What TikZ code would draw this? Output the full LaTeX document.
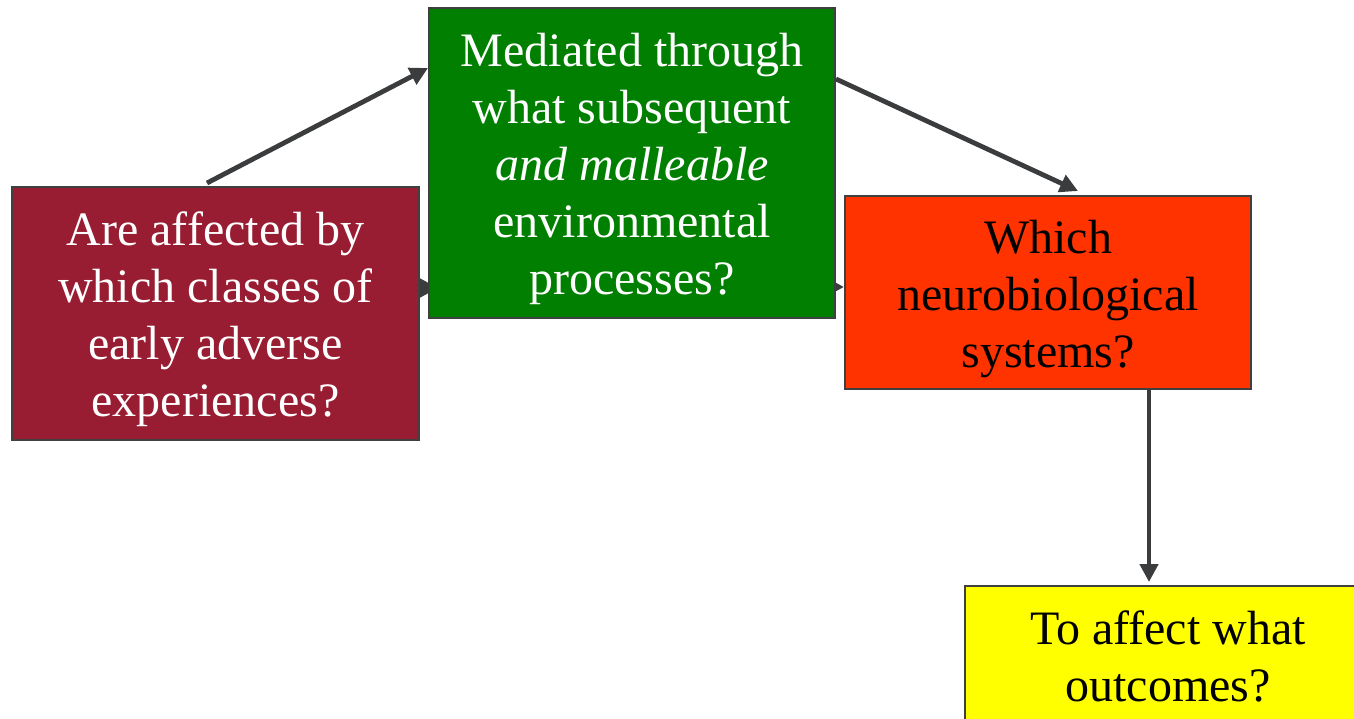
\documentclass[tikz,border=0pt]{standalone}
\usepackage{fontspec}
\setmainfont{Liberation Serif}
\usetikzlibrary{positioning,arrows.meta,backgrounds}
\definecolor{boxred}{RGB}{153,29,50}
\definecolor{boxgreen}{RGB}{0,127,0}
\definecolor{boxorange}{RGB}{255,51,0}
\definecolor{boxyellow}{RGB}{255,255,0}
\definecolor{edgegray}{RGB}{64,64,64}
\definecolor{arrowgray}{RGB}{58,60,62}
\newcommand{\boxstrut}{\rule{0pt}{23pt}}
\begin{document}
\begin{tikzpicture}[x=0.5pt, y=-0.5pt]
		\tikzstyle{questionbox} = [rectangle, draw = edgegray, line width = 1pt, align = center, minimum width = 203pt, inner sep = 0pt, font = \fontsize{24}{28.5}\selectfont];
		\tikzstyle{flowpath} = [draw = arrowgray, line width = 2.4pt, -{Triangle[length = 9pt, width = 9pt]}];
		\useasboundingbox (0,0) rectangle (1354,718);
		\node (adverse) at (215.5,313.5) [questionbox, fill = boxred, text = white, minimum width = 203.5pt, minimum height = 126.5pt] {\boxstrut Are affected by\\which classes of\\early adverse\\experiences?};
		\node (mediated) at (632,163) [questionbox, fill = boxgreen, text = white, minimum height = 155pt] {\boxstrut Mediated through\\what subsequent\\\textit{and malleable}\\environmental\\processes?};
		\node (neuro) at (1048,292.5) [questionbox, fill = boxorange, minimum height = 96.5pt] {\boxstrut Which\\neurobiological\\systems?};
		\node (outcome) at (1168,656) [questionbox, fill = boxyellow, minimum height = 70pt] {To affect what\\outcomes?};
		\coordinate (neurodown) at ([xshift = 50.5pt]neuro.south);
		\begin{pgfonlayer}{background}
			\path [flowpath] ([yshift = 12.75pt]adverse.east) -- ++(9pt,0);
			\path [flowpath] ([yshift = -62pt]mediated.east) -- ([yshift = 2.75pt]neuro.west);
		\end{pgfonlayer}
		\path [flowpath] ([xshift = -4.25pt, yshift = 1.5pt]adverse.north) -- ([yshift = -30.5pt]mediated.north west);
		\path [flowpath] ([yshift = -36pt]mediated.north east) -- ([xshift = 15pt, yshift = 2pt]neuro.north);
		\path [flowpath] (neurodown) -- ([yshift = 1.5pt]neurodown |- outcome.north);
	\end{tikzpicture}
\end{document}
